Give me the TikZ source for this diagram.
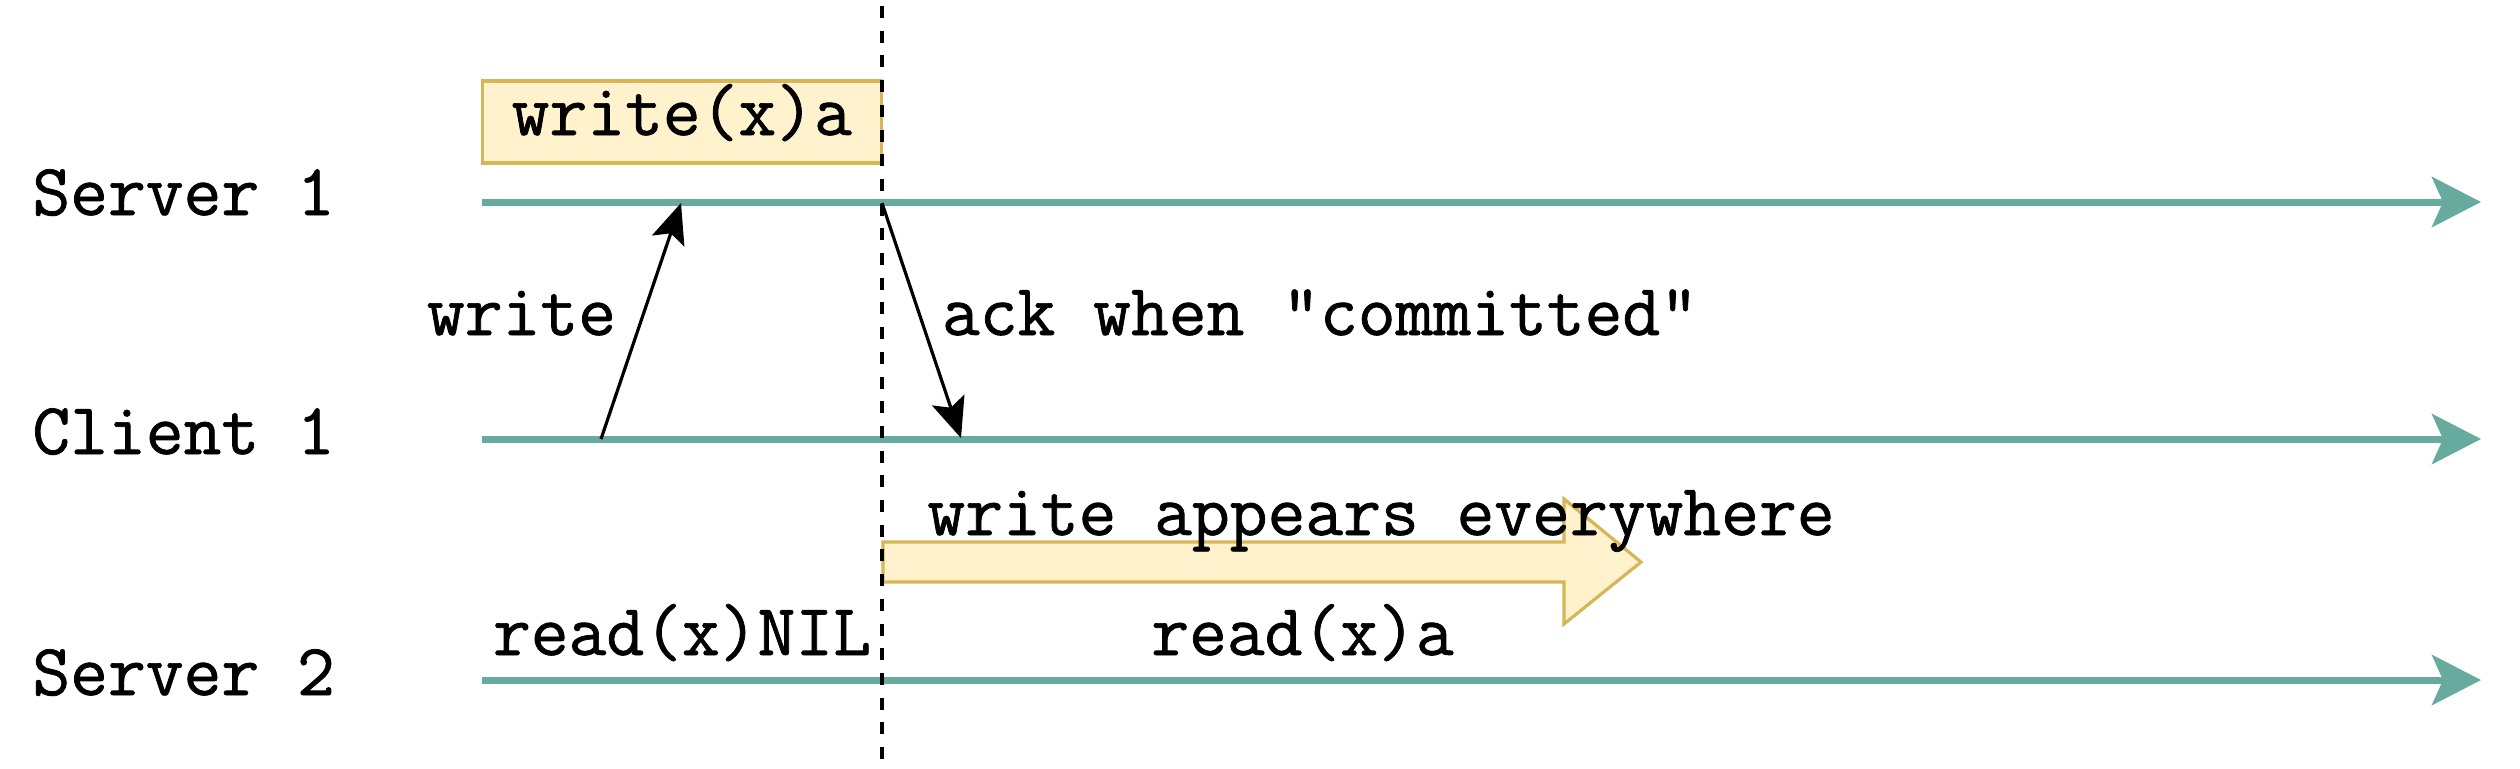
\documentclass[tikz,border=0pt]{standalone}
\usepackage{fontspec}
\usetikzlibrary{arrows.meta}
\newfontfamily\heavytt{Latin Modern Mono}[FakeBold=1]
\definecolor{teal1}{HTML}{67AB9F}
\definecolor{boxfill}{HTML}{FFF2CC}
\definecolor{boxline}{HTML}{D6B656}
\begin{document}
\begin{tikzpicture}[x=0.5pt,y=-0.5pt,
  lbl/.style={inner sep=0pt, font=\fontsize{36.7pt}{43pt}\heavytt},
  timeline/.style={draw=teal1, line width=3.5pt, -{Stealth[length=24.5pt,width=25pt,inset=5.5pt]}},
  msg/.style={draw=black, line width=1.6pt, -{Stealth[length=20pt,width=17pt,inset=4pt]}},
  opbox/.style={draw=boxline, fill=boxfill, line width=1.6pt, minimum width=199.5pt, minimum height=41pt,
    inner sep=0pt, text height=22.2pt, text depth=9.2pt, font=\fontsize{36.7pt}{43pt}\heavytt},
  cutline/.style={draw=black, line width=2pt, dash pattern=on 6pt off 6.35pt},
  bigarrow/.style={draw=boxline, fill=boxfill, line width=1.6pt}
]
\useasboundingbox (0,0) rectangle (2520,768);

% process labels
\node[lbl, anchor=base west] (s1) at (32,215) {Server 1};
\node[lbl, anchor=base west] (c1) at (32,454) {Client 1};
\node[lbl, anchor=base west] (s2) at (32,695) {Server 2};

% timelines
\coordinate (s1a) at (482,202);
\coordinate (s1b) at (2481,202);
\coordinate (c1a) at (482,439);
\coordinate (c1b) at (2481,439);
\coordinate (s2a) at (482,680);
\coordinate (s2b) at (2481,680);
\draw[timeline] (s1a) -- (s1b);
\draw[timeline] (c1a) -- (c1b);
\draw[timeline] (s2a) -- (s2b);

% write(x)a box
\node[opbox] (wxa) at (681.75,122) {write(x)a};

% messages
\coordinate (w0) at (601,439);
\coordinate (w1) at (681,203);
\coordinate (k0) at (882,203);
\coordinate (k1) at (961,438);
\draw[msg] (w0) -- (w1);
\draw[msg] (k0) -- (k1);
\node[lbl, anchor=base] (wlbl) at (521.5,335) {write};
\node[lbl, anchor=base] (klbl) at (1320,335) {ack when "committed"};

% propagation arrow
\path[bigarrow] (883,542) -- (1564,542) -- (1564,499) -- (1641,562) -- (1564,624) -- (1564,582) -- (883,582) -- cycle;
\node[lbl, anchor=base] (prop) at (1381,535) {write appears everywhere};

% reads
\node[lbl, anchor=base] (rnil) at (682,655) {read(x)NIL};
\node[lbl, anchor=base] (ra) at (1302.5,655) {read(x)a};

% cut line
\coordinate (d0) at (881.5,6);
\coordinate (d1) at (881.5,762);
\draw[cutline] (d0) -- (d1);
\end{tikzpicture}
\end{document}
